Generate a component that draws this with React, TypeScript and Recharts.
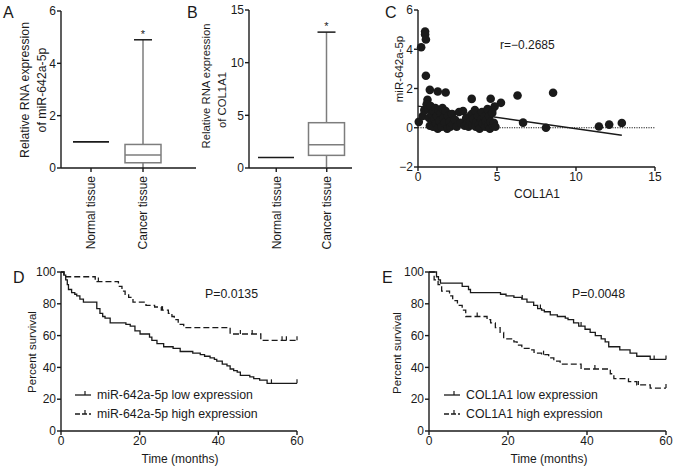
import React from 'react';
import {
  ComposedChart,
  Bar,
  XAxis,
  YAxis,
  ScatterChart,
  Scatter,
  ReferenceLine,
  LineChart,
  Line,
} from 'recharts';

const FONT = '"Liberation Sans", Arial, Helvetica, sans-serif';
const INK = '#1a1a1a';
const GREY = '#7d7d7d';

// A and B: box plots
const tissues = ['Normal tissue', 'Cancer tissue'];
const mirMin = [1, 0];
const mirQ1 = [1, 0.2];
const mirMed = [1, 0.5];
const mirQ3 = [1, 0.9];
const mirMax = [1, 4.9];
const mirTicks = [0, 2, 4, 6];

const colMin = [1, 0.05];
const colQ1 = [1, 1.2];
const colMed = [1, 2.2];
const colQ3 = [1, 4.3];
const colMax = [1, 12.9];
const colTicks = [0, 5, 10, 15];

// C: correlation scatter
const scatX = [
  0.05, 0.2, 0.45, 0.45, 0.5, 0.5, 0.75, 1.25, 1.75, 0.6, 3.4, 4.6, 6.3, 8.55, 5.25, 4.85, 4.7, 6.65, 8.1, 11.45, 12.1, 12.9,
  0.3, 0.4, 0.55, 0.65, 0.7, 0.75, 0.8, 0.85, 0.9, 0.95, 1.0, 1.05, 1.1, 1.15, 1.2, 1.25, 1.3, 1.35, 1.45, 1.5,
  1.55, 1.6, 1.7, 1.75, 1.85, 1.9, 2.0, 2.05, 2.15, 2.2, 2.35, 2.45, 2.6, 2.7, 2.85, 2.95, 3.05, 3.1, 3.2, 3.3,
  3.4, 3.45, 3.5, 3.6, 3.65, 3.7, 3.8, 3.85, 3.9, 4.0, 4.05, 4.1, 4.2, 4.25, 4.3, 4.4, 4.45, 4.5, 4.55, 4.6,
  4.7, 4.75, 4.8, 4.9,
];
const scatY = [
  0.3, 4.1, 4.9, 4.75, 4.5, 2.65, 1.93, 1.85, 1.8, 1.43, 1.47, 1.48, 1.64, 1.78, 1.27, 1.08, 0.9, 0.26, 0, 0.06, 0.16, 0.24,
  0.6, 0.9, 1.2, 0.95, 0.5, 0.1, 1.1, 0.7, 0.3, 0.05, 0.85, 0.45, 1.0, 0.2, 0.6, -0.05, 0.9, 0.35, 0.75, 0.05,
  1.0, 0.5, 0.25, 0.85, -0.05, 0.6, 0.3, 0.05, 0.7, 0.15, 0.4, 0.05, 0.8, 0.25, 0.85, 0.1, 0.5, 0.2, 0.05, 0.3,
  0.7, 0.15, 0.45, 0.9, 0.05, 0.3, 0.6, 0.15, -0.05, 0.45, 0.8, 0.2, 0.55, 0.05, 0.35, 0.95, 0.15, 0.6, -0.05, 0.3,
  0.75, 0.1, 0.25, 0.05,
];
const regX = [0, 12.9];
const regY = [1.1, -0.38];
const scatXTicks = [0, 5, 10, 15];
const scatYTicks = [-2, 0, 2, 4, 6];

// D: survival by miR-642a-5p
const dLowT = [0, 0.7, 1.2, 1.6, 1.9, 2.7, 3.5, 4.0, 4.8, 5.7, 9.1, 9.9, 10.6, 11.2, 12.5, 16.5, 17.6, 18.8, 20.1, 22.5, 23.1, 24.4, 26.1, 28.5, 30.3, 33.5, 35.4, 36.5, 37.9, 39, 39.6, 41, 42.2, 43, 43.9, 44.8, 45.6, 48, 49, 50.5, 52.4, 60];
const dLowS = [100, 98, 95, 92, 89, 87, 86, 85, 83, 81, 77, 74, 72, 71, 68, 67, 66, 63, 61, 59, 57, 55, 53, 52, 50, 49, 48, 47, 46, 45, 44, 42, 41, 39, 38, 37, 35, 34, 33, 32, 30, 30];
const dLowC = [53.5, 60];
const dHighT = [0, 0.8, 8.7, 14.6, 15.5, 16.3, 17.2, 18.3, 21.6, 23.8, 25.5, 27.3, 28.2, 28.8, 29.8, 31.2, 43.0, 50.8, 60];
const dHighS = [100, 97, 94, 91, 88, 86, 84, 81, 79, 78, 76, 74, 72, 70, 67, 65, 61, 57, 57];
const dHighC = [9.5, 25.8, 45.6, 48.6, 56.2, 57.3, 60];

// E: survival by COL1A1
const eLowT = [0, 1.9, 2.4, 2.9, 8.4, 10.0, 10.5, 18.1, 19.5, 21.5, 23.5, 24.8, 26.5, 27.5, 28.5, 29.2, 30.7, 32.5, 34.5, 35.2, 36.6, 37.9, 39.5, 40.8, 42.1, 43.6, 44.6, 45.5, 48.3, 50.9, 52.6, 56, 60];
const eLowS = [100, 97, 95, 93, 91, 89, 87, 86, 85, 84, 83, 81, 79, 77, 76, 75, 73, 72, 71, 70, 68, 66, 64, 62, 60, 58, 56, 53, 51, 49, 47, 45, 45];
const eLowC = [23.6, 28.2, 38.5, 57, 60];
const eHighT = [0, 1.3, 2.3, 3.2, 5.2, 6.0, 7.2, 8.4, 9.3, 14.7, 15.6, 16.8, 18.0, 18.9, 21.5, 22.3, 23.5, 25.7, 26.6, 28.5, 30.3, 31.6, 33.2, 38.5, 45.9, 46.8, 50.5, 52.6, 56, 60];
const eHighS = [100, 95, 92, 88, 85, 82, 79, 76, 72, 70, 68, 65, 62, 58, 56, 54, 52, 51, 49, 48, 46, 44, 42, 39, 36, 33, 31, 29, 27, 27];
const eHighC = [12.2, 29, 42, 53, 60];

const kmXTicks = [0, 20, 40, 60];
const kmYTicks = [0, 20, 40, 60, 80, 100];

const tickStyle = { fill: INK, fontSize: 12, fontFamily: FONT };
const axisProps = {
  stroke: INK,
  strokeWidth: 1.4,
  tickSize: 4,
  tickMargin: 1,
  tickLine: { stroke: INK, strokeWidth: 1.4 },
  tick: tickStyle,
};

function boxRows(mn: number[], q1: number[], md: number[], q3: number[], mx: number[]) {
  return tissues.map((name, i) => ({ name, min: mn[i], q1: q1[i], med: md[i], q3: q3[i], max: mx[i], star: i === 1 }));
}

function kmData(t: number[], s: number[], cens: number[]) {
  const rows = t.map((tt, i) => ({ t: tt, s: s[i], c: false }));
  cens.forEach((ct) => {
    const hit = rows.find((r) => r.t === ct);
    if (hit) {
      hit.c = true;
      return;
    }
    let v = s[0];
    t.forEach((tt, i) => {
      if (tt <= ct) v = s[i];
    });
    rows.push({ t: ct, s: v, c: true });
  });
  return rows.sort((a, b) => a.t - b.t);
}

function BoxShape(props: any) {
  const { x, y, width, height, payload } = props;
  const top = Math.min(y, y + height);
  const h = Math.abs(height);
  const span = payload.max - payload.min;
  if (span === 0) {
    return <line x1={x} x2={x + width} y1={top} y2={top} stroke={INK} strokeWidth={1.6} />;
  }
  const py = (v: number) => top + (h * (payload.max - v)) / span;
  const cx = x + width / 2;
  const cap = width / 4;
  return (
    <g stroke={GREY} strokeWidth={1.5} fill="none">
      <line x1={cx} x2={cx} y1={py(payload.max)} y2={py(payload.q3)} />
      <line x1={cx} x2={cx} y1={py(payload.q1)} y2={py(payload.min)} />
      <line x1={cx - cap} x2={cx + cap} y1={py(payload.max)} y2={py(payload.max)} stroke={INK} />
      <rect x={x} y={py(payload.q3)} width={width} height={py(payload.q1) - py(payload.q3)} fill="#fff" />
      <line x1={x} x2={x + width} y1={py(payload.med)} y2={py(payload.med)} />
      {payload.star && (
        <text x={cx} y={py(payload.max) - 2} textAnchor="middle" fontSize={11} fill={INK} stroke="none" fontFamily={FONT}>
          *
        </text>
      )}
    </g>
  );
}

function CatTick(props: any) {
  const { x, y, payload } = props;
  return (
    <text
      x={x}
      y={y}
      dx={-3}
      dy="0.36em"
      transform={`rotate(-90 ${x} ${y})`}
      textAnchor="end"
      fontSize={12}
      fill={INK}
      fontFamily={FONT}
    >
      {payload.value}
    </text>
  );
}

function censorDot(props: any) {
  const { cx, cy, payload, index } = props;
  if (!payload || !payload.c) return <g key={`d-${index}`} />;
  return <line key={`d-${index}`} x1={cx} x2={cx} y1={cy - 4} y2={cy} stroke={INK} strokeWidth={1.2} />;
}

function BoxPanel(props: any) {
  const { rows, ticks, left, width, top, yWidth, right, pad } = props;
  return (
    <div style={{ position: 'absolute', left, top: 0 }}>
      <ComposedChart width={width} height={250} data={rows} margin={{ top, right, left: 0, bottom: 0 }}>
        <XAxis dataKey="name" type="category" padding={pad} height={82} interval={0} {...axisProps} tick={<CatTick />} />
        <YAxis
          type="number"
          domain={[ticks[0], ticks[ticks.length - 1]]}
          ticks={ticks}
          interval={0}
          width={yWidth}
          {...axisProps}
        />
        <Bar dataKey={(d: any) => [d.min, d.max]} barSize={36} shape={(p: any) => <BoxShape {...p} />} isAnimationActive={false} />
      </ComposedChart>
    </div>
  );
}

function KmPanel(props: any) {
  const { left, width, yWidth, right, low, high } = props;
  return (
    <div style={{ position: 'absolute', left, top: 260 }}>
      <LineChart width={width} height={212} margin={{ top: 12, right, left: 0, bottom: 0 }}>
        <XAxis dataKey="t" type="number" domain={[0, 60]} ticks={kmXTicks} interval={0} height={41} {...axisProps} />
        <YAxis type="number" domain={[0, 100]} ticks={kmYTicks} interval={0} width={yWidth} {...axisProps} />
        <Line
          data={low}
          dataKey="s"
          type="stepAfter"
          stroke={INK}
          strokeWidth={1.3}
          dot={censorDot}
          activeDot={false}
          isAnimationActive={false}
        />
        <Line
          data={high}
          dataKey="s"
          type="stepAfter"
          stroke={INK}
          strokeWidth={1.3}
          strokeDasharray="6 3"
          dot={censorDot}
          activeDot={false}
          isAnimationActive={false}
        />
      </LineChart>
    </div>
  );
}

function LegendRow({ x, y, dashed, label }: { x: number; y: number; dashed?: boolean; label: string }) {
  return (
    <g>
      <line x1={x} x2={x + 16} y1={y} y2={y} stroke={INK} strokeWidth={1.3} strokeDasharray={dashed ? '5 2' : undefined} />
      <line x1={x + 10} x2={x + 10} y1={y - 4} y2={y} stroke={INK} strokeWidth={1.2} />
      <text x={x + 22} y={y + 4} fontSize={12.3}>
        {label}
      </text>
    </g>
  );
}

function RotText({ x, y, size, children }: { x: number; y: number; size: number; children: React.ReactNode }) {
  return (
    <text transform={`translate(${x},${y}) rotate(-90)`} textAnchor="middle" fontSize={size}>
      {children}
    </text>
  );
}

export default function App() {
  const scatterData = scatX.map((x, i) => ({ x, y: scatY[i] }));
  const minus = (v: number) => (v < 0 ? `\u2212${Math.abs(v)}` : `${v}`);
  const rText = 'r=\u22120.2685';

  return (
    <div style={{ position: 'absolute', left: 0, top: 0, width: 677, height: 472, background: '#fff', fontFamily: FONT }}>
      <BoxPanel
        rows={boxRows(mirMin, mirQ1, mirMed, mirQ3, mirMax)}
        ticks={mirTicks}
        left={0}
        width={200}
        top={11}
        yWidth={61}
        right={4}
        pad={{ left: 4, right: 27 }}
      />
      <BoxPanel
        rows={boxRows(colMin, colQ1, colMed, colQ3, colMax)}
        ticks={colTicks}
        left={190}
        width={170}
        top={10}
        yWidth={59}
        right={8}
        pad={{ left: 2, right: 0 }}
      />

      <div style={{ position: 'absolute', left: 370, top: 0 }}>
        <ScatterChart width={307} height={210} margin={{ top: 10, right: 22, left: 0, bottom: 0 }}>
          <XAxis dataKey="x" type="number" domain={[0, 15]} ticks={scatXTicks} interval={0} height={43} {...axisProps} />
          <YAxis
            dataKey="y"
            type="number"
            domain={[-2, 6]}
            ticks={scatYTicks}
            interval={0}
            width={48}
            tickFormatter={minus}
            {...axisProps}
          />
          <ReferenceLine y={0} stroke={INK} strokeWidth={1.2} strokeDasharray="1.2 1.2" />
          <Scatter data={scatterData} fill={INK} shape={(p: any) => <circle cx={p.cx} cy={p.cy} r={4.3} fill={INK} />} isAnimationActive={false} />
          <ReferenceLine
            segment={[
              { x: regX[0], y: regY[0] },
              { x: regX[1], y: regY[1] },
            ]}
            stroke={INK}
            strokeWidth={1.4}
          />
        </ScatterChart>
      </div>

      <KmPanel left={0} width={310} yWidth={61} right={13} low={kmData(dLowT, dLowS, dLowC)} high={kmData(dHighT, dHighS, dHighC)} />
      <KmPanel left={337} width={340} yWidth={92} right={11} low={kmData(eLowT, eLowS, eLowC)} high={kmData(eHighT, eHighS, eHighC)} />

      <svg
        width={677}
        height={472}
        style={{ position: 'absolute', left: 0, top: 0, pointerEvents: 'none' }}
        fontFamily={FONT}
        fill={INK}
      >
        <text x={3} y={18} fontSize={16}>A</text>
        <text x={187} y={18} fontSize={16}>B</text>
        <text x={385} y={18} fontSize={16}>C</text>
        <text x={13} y={283} fontSize={16}>D</text>
        <text x={382} y={283} fontSize={16}>E</text>

        <RotText x={29} y={90} size={12.3}>Relative RNA expression</RotText>
        <RotText x={45.5} y={90} size={12.3}>of miR-642a-5p</RotText>
        <RotText x={210} y={86} size={11.3}>Relative RNA expression</RotText>
        <RotText x={225.5} y={100} size={11.3}>of COL1A1</RotText>

        <RotText x={403} y={69} size={11.5}>miR-642a-5p</RotText>
        <text x={537} y={198} textAnchor="middle" fontSize={12}>COL1A1</text>
        <text x={500} y={49} fontSize={12}>{rText}</text>

        <RotText x={36} y={352} size={11.5}>Percent survival</RotText>
        <text x={180} y={463} textAnchor="middle" fontSize={12}>Time (months)</text>
        <text x={205} y={298} fontSize={12.3}>P=0.0135</text>
        <LegendRow x={75} y={395} label="miR-642a-5p low expression" />
        <LegendRow x={75} y={414} dashed label="miR-642a-5p high expression" />

        <RotText x={401} y={353} size={11.5}>Percent survival</RotText>
        <text x={549} y={463} textAnchor="middle" fontSize={12}>Time (months)</text>
        <text x={572} y={298} fontSize={12.3}>P=0.0048</text>
        <LegendRow x={444} y={395} label="COL1A1 low expression" />
        <LegendRow x={444} y={414} dashed label="COL1A1 high expression" />
      </svg>
    </div>
  );
}
